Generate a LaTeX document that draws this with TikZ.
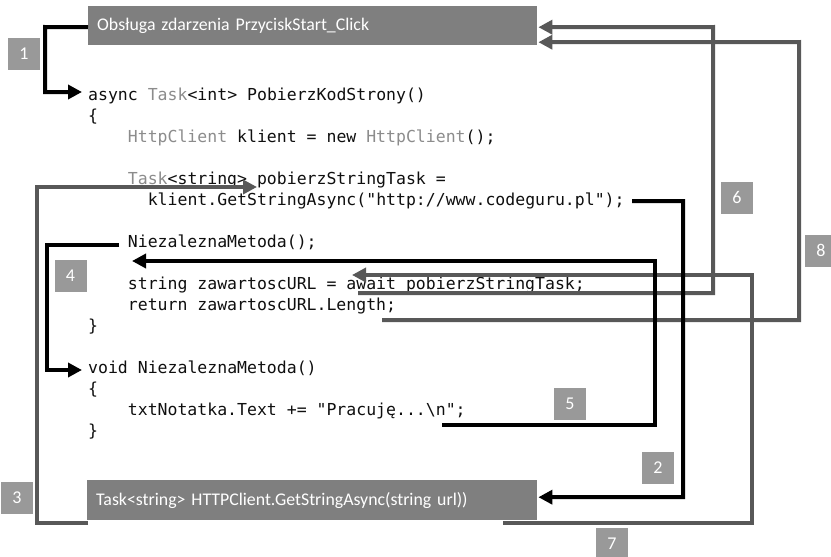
\documentclass[tikz,border=0pt]{standalone}
\usepackage{fontspec}
\usetikzlibrary{arrows.meta}
\newfontfamily\codefont{DejaVu Sans Mono}
\newfontfamily\boxfont{Carlito}
\definecolor{boxgray}{RGB}{127,127,127}
\definecolor{labgray}{RGB}{153,153,153}
\definecolor{linegray}{RGB}{88,88,88}
\definecolor{codeblack}{RGB}{15,15,15}
\definecolor{typegray}{RGB}{140,140,140}
\newcommand\tyname[1]{\textcolor{typegray}{#1}}
\tikzset{
  code/.style={anchor=base west, inner sep=0pt, text=codeblack,
    font=\codefont\fontsize{16.5}{20}\selectfont},
  graybox/.style={fill=boxgray, text=white, inner ysep=0pt, inner xsep=9pt,
    align=left, anchor=north west, font=\boxfont\fontsize{17.8}{20}\selectfont},
  numlab/.style={fill=labgray, text=white, minimum size=32pt, inner sep=0pt,
    font=\boxfont\fontsize{18}{20}\selectfont},
  blkline/.style={line width=4pt, draw=black, -{Triangle[length=14pt,width=14pt]}},
  grayline/.style={line width=4pt, draw=linegray, -{Triangle[length=14pt,width=14pt]}},
}
\begin{document}
\begin{tikzpicture}[x=1pt,y=-1pt]
\useasboundingbox (0,0) rectangle (831,557);
\clip (0,0) rectangle (831,557);
\fill[white] (0,0) rectangle (831,557);

% gray boxes
\node[graybox, minimum height=39pt, text width=431pt] (topbox) at (88,6)
  {Obsługa zdarzenia PrzyciskStart\_Click};
\node[graybox, minimum height=40pt, text width=432pt] (botbox) at (87,480)
  {Task<string> HTTPClient.GetStringAsync(string url))};

% code lines
\node[code] (l0)  at (88,100)    {async \tyname{Task}<int> PobierzKodStrony()};
\node[code] (l1)  at (88,121)    {\{};
\node[code] (l2)  at (127.7,142) {\tyname{HttpClient} klient = new \tyname{HttpClient}();};
\node[code] (l4)  at (127.7,184) {\tyname{Task}<string> pobierzStringTask =};
\node[code] (l5)  at (147.6,205) {klient.GetStringAsync("http://www.codeguru.pl");};
\node[code] (l7)  at (127.7,247) {NiezaleznaMetoda();};
\node[code] (l9)  at (127.7,289) {string zawartoscURL = await pobierzStringTask;};
\node[code] (l10) at (127.7,310) {return zawartoscURL.Length;};
\node[code] (l11) at (88,331)    {\}};
\node[code] (l13) at (88,373)    {void NiezaleznaMetoda()};
\node[code] (l14) at (88,394)    {\{};
\node[code] (l15) at (127.7,415) {txtNotatka.Text += "Pracuję...\textbackslash n";};
\node[code] (l16) at (88,436)    {\}};

% connector end points
\coordinate (s2) at (632,201);
\coordinate (s3) at (88,523);
\coordinate (s4) at (119,245);
\coordinate (s5) at (442,425);
\coordinate (s6) at (358,293);
\coordinate (s7) at (503,523);
\coordinate (s8) at (382,320);
\coordinate (e1) at (82,92);
\coordinate (e3) at (257,187);
\coordinate (e4) at (82,370);
\coordinate (e5) at (132,261);
\coordinate (e7) at (352,275);

% connectors
\draw[grayline] (s6) -- (713,293) -- (713,27) -- ([xshift=1pt,yshift=-1.5pt]topbox.east);
\draw[grayline] (s8) -- (799,320) -- (799,42) -- ([xshift=1pt,yshift=-16.5pt]topbox.east);
\draw[grayline] (s7) -- (752,523) -- (752,275) -- (e7);
\draw[grayline] (s3) -- (37,523) -- (37,187) -- (e3);
\draw[blkline] ([yshift=-1.5pt]topbox.west) -- (45,27) -- (45,92) -- (e1);
\draw[blkline] (s2) -- (683,201) -- (683,497) -- ([xshift=1pt,yshift=3pt]botbox.east);
\draw[blkline] (s4) -- (47,245) -- (47,370) -- (e4);
\draw[blkline] (s5) -- (655,425) -- (655,261) -- (e5);

% number labels
\node[numlab] (n1) at (24,54) {1};
\node[numlab] (n2) at (658,468) {2};
\node[numlab] (n3) at (17,497.5) {3};
\node[numlab] (n4) at (70.5,275.5) {4};
\node[numlab] (n5) at (570,403.5) {5};
\node[numlab] (n6) at (737,197.5) {6};
\node[numlab] (n7) at (612,544) {7};
\node[numlab] (n8) at (821,250.5) {8};
\end{tikzpicture}
\end{document}
